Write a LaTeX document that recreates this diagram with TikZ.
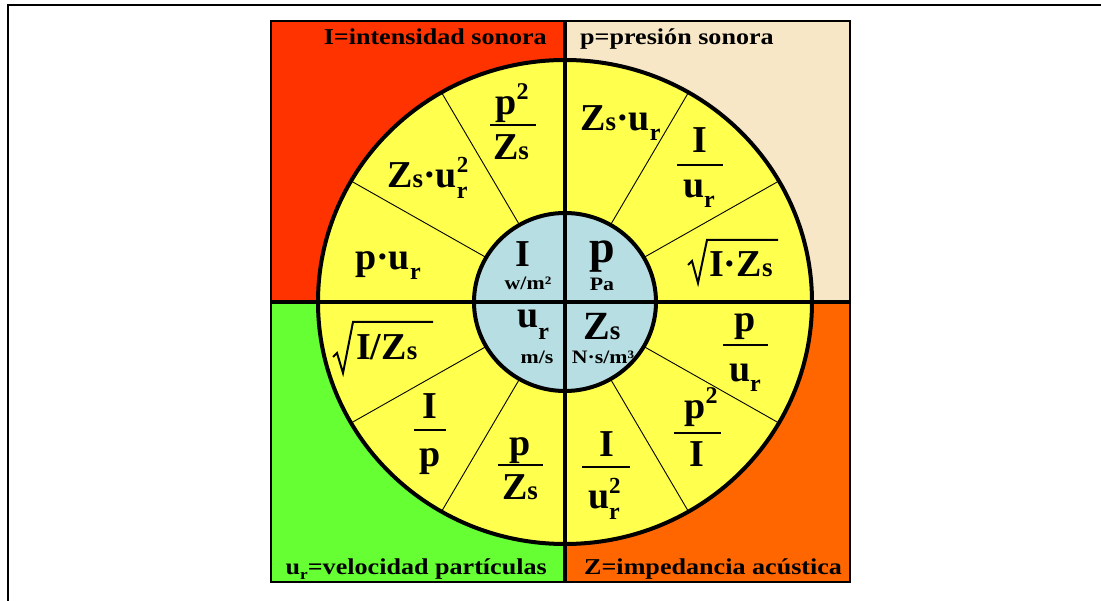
\documentclass[tikz,border=0pt]{standalone}
\usepackage{fontspec}
\setmainfont{Liberation Serif}
\newfontfamily\labfont[FakeStretch=1.15]{Liberation Serif}
\definecolor{qred}{HTML}{FF3300}
\definecolor{qbeige}{HTML}{F7E7C6}
\definecolor{qgreen}{HTML}{66FF33}
\definecolor{qorange}{HTML}{FF6600}
\definecolor{ring}{HTML}{FFFF4D}
\definecolor{core}{HTML}{B7DEE2}
\newcommand\rsub{\raisebox{-10pt}{\fontsize{24}{24}\selectfont r}}
\newcommand\ssub{{\fontsize{27}{27}\selectfont s}}
\newcommand\rsubsq{\rlap{\raisebox{15pt}{\fontsize{23}{23}\selectfont 2}}\raisebox{-11pt}{\fontsize{24}{24}\selectfont r}}
\newcommand\sqsup{\raisebox{15pt}{\fontsize{24}{24}\selectfont 2}}
\begin{document}
\begin{tikzpicture}[x=1pt,y=-1pt,
  divider/.style={line width=4pt},
  rim/.style={line width=4pt},
  spoke/.style={line width=0.9pt},
  fbar/.style={line width=2pt},
  rad/.style={line width=2pt, line join=miter},
  formula/.style={inner sep=0pt, font=\fontsize{38}{40}\selectfont\bfseries},
  unit/.style={inner sep=0pt, font=\labfont\fontsize{19}{22}\selectfont\bfseries},
  lab/.style={inner sep=0pt, font=\labfont\fontsize{22.7}{26}\selectfont\bfseries}]
\useasboundingbox (0,0) rectangle (1101,601);
\coordinate (c) at (565,302);
% quadrants
\fill[qred] (271,21) rectangle (565,302);
\fill[qbeige] (565,21) rectangle (850,302);
\fill[qgreen] (271,302) rectangle (565,582);
\fill[qorange] (565,302) rectangle (850,582);
% ring
\fill[ring] (c) ellipse [x radius=247pt, y radius=242pt];
\foreach \a in {30,60,120,150,210,240,300,330}
  \draw[spoke] ({565+91*cos(\a)},{302+89*sin(\a)}) -- ({565+247*cos(\a)},{302+242*sin(\a)});
\fill[core] (c) ellipse [x radius=91pt, y radius=89pt];
\draw[divider] (565,21) -- (565,582);
\draw[divider] (271,302) -- (850,302);
\draw[rim] (c) ellipse [x radius=247pt, y radius=242pt];
\draw[rim] (c) ellipse [x radius=91pt, y radius=89pt];
\draw[line width=1.5pt] (271,21) rectangle (850,582);
\draw[line width=2pt] (8,601) -- (8,5) -- (1101,5);
% labels
\node[lab, anchor=base east] (l1) at (547,45) {I=intensidad sonora};
\node[lab, anchor=base west] (l2) at (580,45) {p=presión sonora};
\node[lab, anchor=base east] (l3) at (547,574) {u\raisebox{-5pt}{\fontsize{15}{15}\selectfont r}=velocidad partículas};
\node[lab, anchor=base west] (l4) at (584,574) {Z=impedancia acústica};
% inner circle
\node[formula, anchor=base] (ci) at (523,267) {I};
\node[unit, anchor=base] (ciu) at (528,290) {w/m²};
\node[formula, anchor=base, font=\fontsize{46}{50}\selectfont\bfseries] (cp) at (602,263) {p};
\node[unit, anchor=base] (cpu) at (602,291) {Pa};
\node[formula, anchor=base west] (cu) at (517,328) {u\raisebox{-12pt}{\fontsize{24}{24}\selectfont r}};
\node[unit, anchor=base] (cuu) at (537,364) {m/s};
\node[formula, anchor=base west, font=\fontsize{40}{42}\selectfont\bfseries] (cz) at (583,340) {Z\ssub};
\node[unit, anchor=base] (czu) at (603,364) {N·s/m³};
% top-right quadrant
\node[formula, anchor=base west] (a1) at (580,131) {Z\ssub·u\rsub};
\node[formula, anchor=base] (a2n) at (700,153) {I};
\node[formula, anchor=base] (a2d) at (699,198) {u\rsub};
\draw[fbar] (677,165) -- (723,165);
\node[formula, anchor=base west] (a3) at (709,277) {I·Z\ssub};
\draw[rad] (688,265) -- (692,261) -- (698,283) -- (707,240) -- (778,240);
% top-left quadrant
\node[formula, anchor=base] (b1n) at (512,115) {p\sqsup};
\node[formula, anchor=base] (b1d) at (511,160) {Z\ssub};
\draw[fbar] (490,125) -- (536,125);
\node[formula, anchor=base west] (b2) at (387,188) {Z\ssub·u\rsubsq};
\node[formula, anchor=base west] (b3) at (355,270) {p·u\rsub};
% bottom-left quadrant
\node[formula, anchor=base west] (c1) at (356,360) {I/Z\ssub};
\draw[rad] (333,357) -- (337,353) -- (343,373) -- (353,322) -- (433,322);
\node[formula, anchor=base] (c2n) at (430,419) {I};
\node[formula, anchor=base] (c2d) at (430,467) {p};
\draw[fbar] (414,430) -- (446,430);
\node[formula, anchor=base] (c3n) at (520,456) {p};
\node[formula, anchor=base] (c3d) at (520,500) {Z\ssub};
\draw[fbar] (498,465) -- (543,465);
% bottom-right quadrant
\node[formula, anchor=base] (d1n) at (607,457) {I};
\node[formula, anchor=base] (d1d) at (604,508) {u\rsubsq};
\draw[fbar] (582,467) -- (630,467);
\node[formula, anchor=base] (d2n) at (701,419) {p\sqsup};
\node[formula, anchor=base] (d2d) at (697,467) {I};
\draw[fbar] (674,433) -- (721,433);
\node[formula, anchor=base] (d3n) at (745,332) {p};
\node[formula, anchor=base] (d3d) at (745,382) {u\rsub};
\draw[fbar] (723,345) -- (768,345);
\end{tikzpicture}
\end{document}
